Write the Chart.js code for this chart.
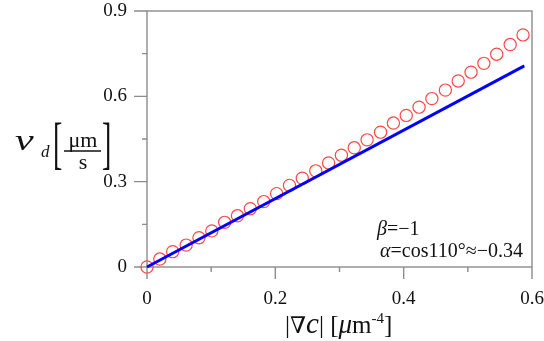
<!DOCTYPE html>
<html>
<head>
<meta charset="utf-8">
<script src="https://cdn.jsdelivr.net/npm/chart.js@4.4.1/dist/chart.umd.min.js"></script>
<style>
html, body { margin: 0; padding: 0; background: #fff; }
</style>
</head>
<body>
<canvas id="chart" width="544" height="341"></canvas>
<script>
// simulation points (red circles)
var gradC = [0, 0.020, 0.040, 0.061, 0.081, 0.101, 0.121, 0.141, 0.161, 0.182,
             0.202, 0.222, 0.242, 0.263, 0.283, 0.303, 0.323, 0.343, 0.364, 0.384,
             0.404, 0.424, 0.444, 0.465, 0.485, 0.505, 0.525, 0.545, 0.566, 0.586];
var vdSim = [0, 0.028, 0.054, 0.077, 0.103, 0.127, 0.157, 0.180, 0.205, 0.230,
             0.258, 0.287, 0.312, 0.338, 0.366, 0.393, 0.419, 0.447, 0.474, 0.506,
             0.533, 0.562, 0.592, 0.622, 0.654, 0.685, 0.716, 0.748, 0.782, 0.816];
// theory line (blue)
var gradTheory = [0, 0.588];
var vdTheory = [0, 0.707];

var xTickLabels = ['0', '0.2', '0.4', '0.6'];
var yTickLabels = ['0', '0.3', '0.6', '0.9'];

var serif = '"Liberation Serif", "DejaVu Serif", serif';
var axisColor = '#8c8c8c';

function toPoints(xs, ys) {
    var out = [];
    for (var i = 0; i < xs.length; i++) out.push({x: xs[i], y: ys[i]});
    return out;
}

function drawPieces(ctx, x, y, pieces) {
    pieces.forEach(function (p) {
        ctx.font = p.font;
        ctx.fillText(p.t, x, y + (p.dy || 0));
        x += ctx.measureText(p.t).width + (p.gap || 0);
    });
}

var axisBox = {
    id: 'axisBox',
    beforeDatasetsDraw: function (chart) {
        var ctx = chart.ctx, a = chart.chartArea;
        var xs = chart.scales.x, ys = chart.scales.y;
        ctx.save();
        ctx.strokeStyle = axisColor;
        ctx.lineWidth = 1.4;
        ctx.strokeRect(a.left, a.top, a.right - a.left, a.bottom - a.top);
        ctx.beginPath();
        xs.ticks.forEach(function (t, i) {
            var px = xs.getPixelForValue(t.value);
            var len = (i % 2 == 0) ? 12 : 5;
            ctx.moveTo(px, a.bottom);
            ctx.lineTo(px, a.bottom + len);
        });
        ys.ticks.forEach(function (t, i) {
            var py = ys.getPixelForValue(t.value);
            var len = (i % 2 == 0) ? 13 : 5;
            ctx.moveTo(a.left, py);
            ctx.lineTo(a.left - len, py);
        });
        ctx.stroke();
        ctx.restore();
    }
};

var titles = {
    id: 'titles',
    afterDraw: function (chart) {
        var ctx = chart.ctx;
        ctx.save();
        ctx.fillStyle = '#111';
        ctx.textBaseline = 'alphabetic';

        // y title: v_d [um/s]
        ctx.save();
        ctx.translate(15, 150);
        ctx.scale(1.4, 1);
        ctx.font = 'italic 30px ' + serif;
        ctx.fillText('v', 0, 0);
        ctx.restore();
        ctx.font = 'italic 17px ' + serif;
        ctx.fillText('d', 41, 157);
        ctx.save();
        ctx.translate(53, 162);
        ctx.scale(0.5, 1);
        ctx.font = '56px ' + serif;
        ctx.fillText('[', 0, 0);
        ctx.restore();
        ctx.font = '22px ' + serif;
        ctx.textAlign = 'center';
        ctx.fillText('\u03bcm', 83, 147);
        ctx.fillText('s', 83, 169);
        ctx.textAlign = 'left';
        ctx.save();
        ctx.translate(102, 162);
        ctx.scale(0.5, 1);
        ctx.font = '56px ' + serif;
        ctx.fillText(']', 0, 0);
        ctx.restore();
        ctx.strokeStyle = '#111';
        ctx.lineWidth = 1.4;
        ctx.beginPath();
        ctx.moveTo(64, 151);
        ctx.lineTo(101, 151);
        ctx.stroke();

        // x title: |grad c| [um^-4]
        drawPieces(ctx, 285, 333, [
            {t: '|', font: '25px ' + serif},
            {t: '\u2207', font: '23px ' + serif},
            {t: 'c', font: 'italic 29px ' + serif},
            {t: '| [', font: '25px ' + serif},
            {t: '\u03bc', font: 'italic 27px ' + serif},
            {t: 'm', font: '25px ' + serif},
            {t: '-4', font: '15px ' + serif, dy: -10},
            {t: ']', font: '25px ' + serif}
        ]);

        // annotation
        drawPieces(ctx, 377, 235, [
            {t: '\u03b2', font: 'italic 20px ' + serif},
            {t: '=\u22121', font: '20px ' + serif}
        ]);
        drawPieces(ctx, 380, 257, [
            {t: '\u03b1', font: 'italic 20px ' + serif},
            {t: '=cos110\u00b0\u2248\u22120.34', font: '20px ' + serif}
        ]);
        ctx.restore();
    }
};

var ctx = document.getElementById('chart');
var chart = new Chart(ctx, {
    type: 'scatter',
    data: {
        datasets: [
            {
                label: 'theory',
                type: 'line',
                data: toPoints(gradTheory, vdTheory),
                borderColor: '#0000ff',
                borderWidth: 3,
                pointRadius: 0,
                fill: false,
                clip: false,
                order: 0
            },
            {
                label: 'simulation',
                data: toPoints(gradC, vdSim),
                showLine: false,
                pointStyle: 'circle',
                pointRadius: 6.1,
                pointBorderWidth: 1.2,
                borderColor: 'rgb(255, 70, 70)',
                backgroundColor: 'rgba(0,0,0,0)',
                clip: false,
                order: 1
            }
        ]
    },
    options: {
        responsive: false,
        animation: false,
        layout: {padding: {left: 0, right: 12, top: 11, bottom: 0}},
        plugins: {legend: {display: false}, tooltip: {enabled: false}},
        scales: {
            x: {
                type: 'linear', min: 0, max: 0.6,
                grid: {display: false, drawTicks: true, tickLength: 12},
                border: {display: false},
                ticks: {
                    stepSize: 0.1, padding: 9, maxRotation: 0, autoSkip: false,
                    color: '#111', font: {family: serif, size: 19},
                    callback: function (v) {
                        var k = Math.round(v / 0.1);
                        return k % 2 == 0 ? xTickLabels[k / 2] : '';
                    }
                },
                afterFit: function (s) { s.height = 74; s.paddingLeft = 0; s.paddingRight = 0; }
            },
            y: {
                type: 'linear', min: 0, max: 0.9,
                grid: {display: false, drawTicks: true, tickLength: 13},
                border: {display: false},
                ticks: {
                    stepSize: 0.15, padding: 7, autoSkip: false,
                    color: '#111', font: {family: serif, size: 19},
                    callback: function (v) {
                        var k = Math.round(v / 0.15);
                        return k % 2 == 0 ? yTickLabels[k / 2] : '';
                    }
                },
                afterFit: function (s) { s.width = 147; s.paddingTop = 0; s.paddingBottom = 0; }
            }
        }
    },
    plugins: [axisBox, titles]
});
</script>
</body>
</html>
